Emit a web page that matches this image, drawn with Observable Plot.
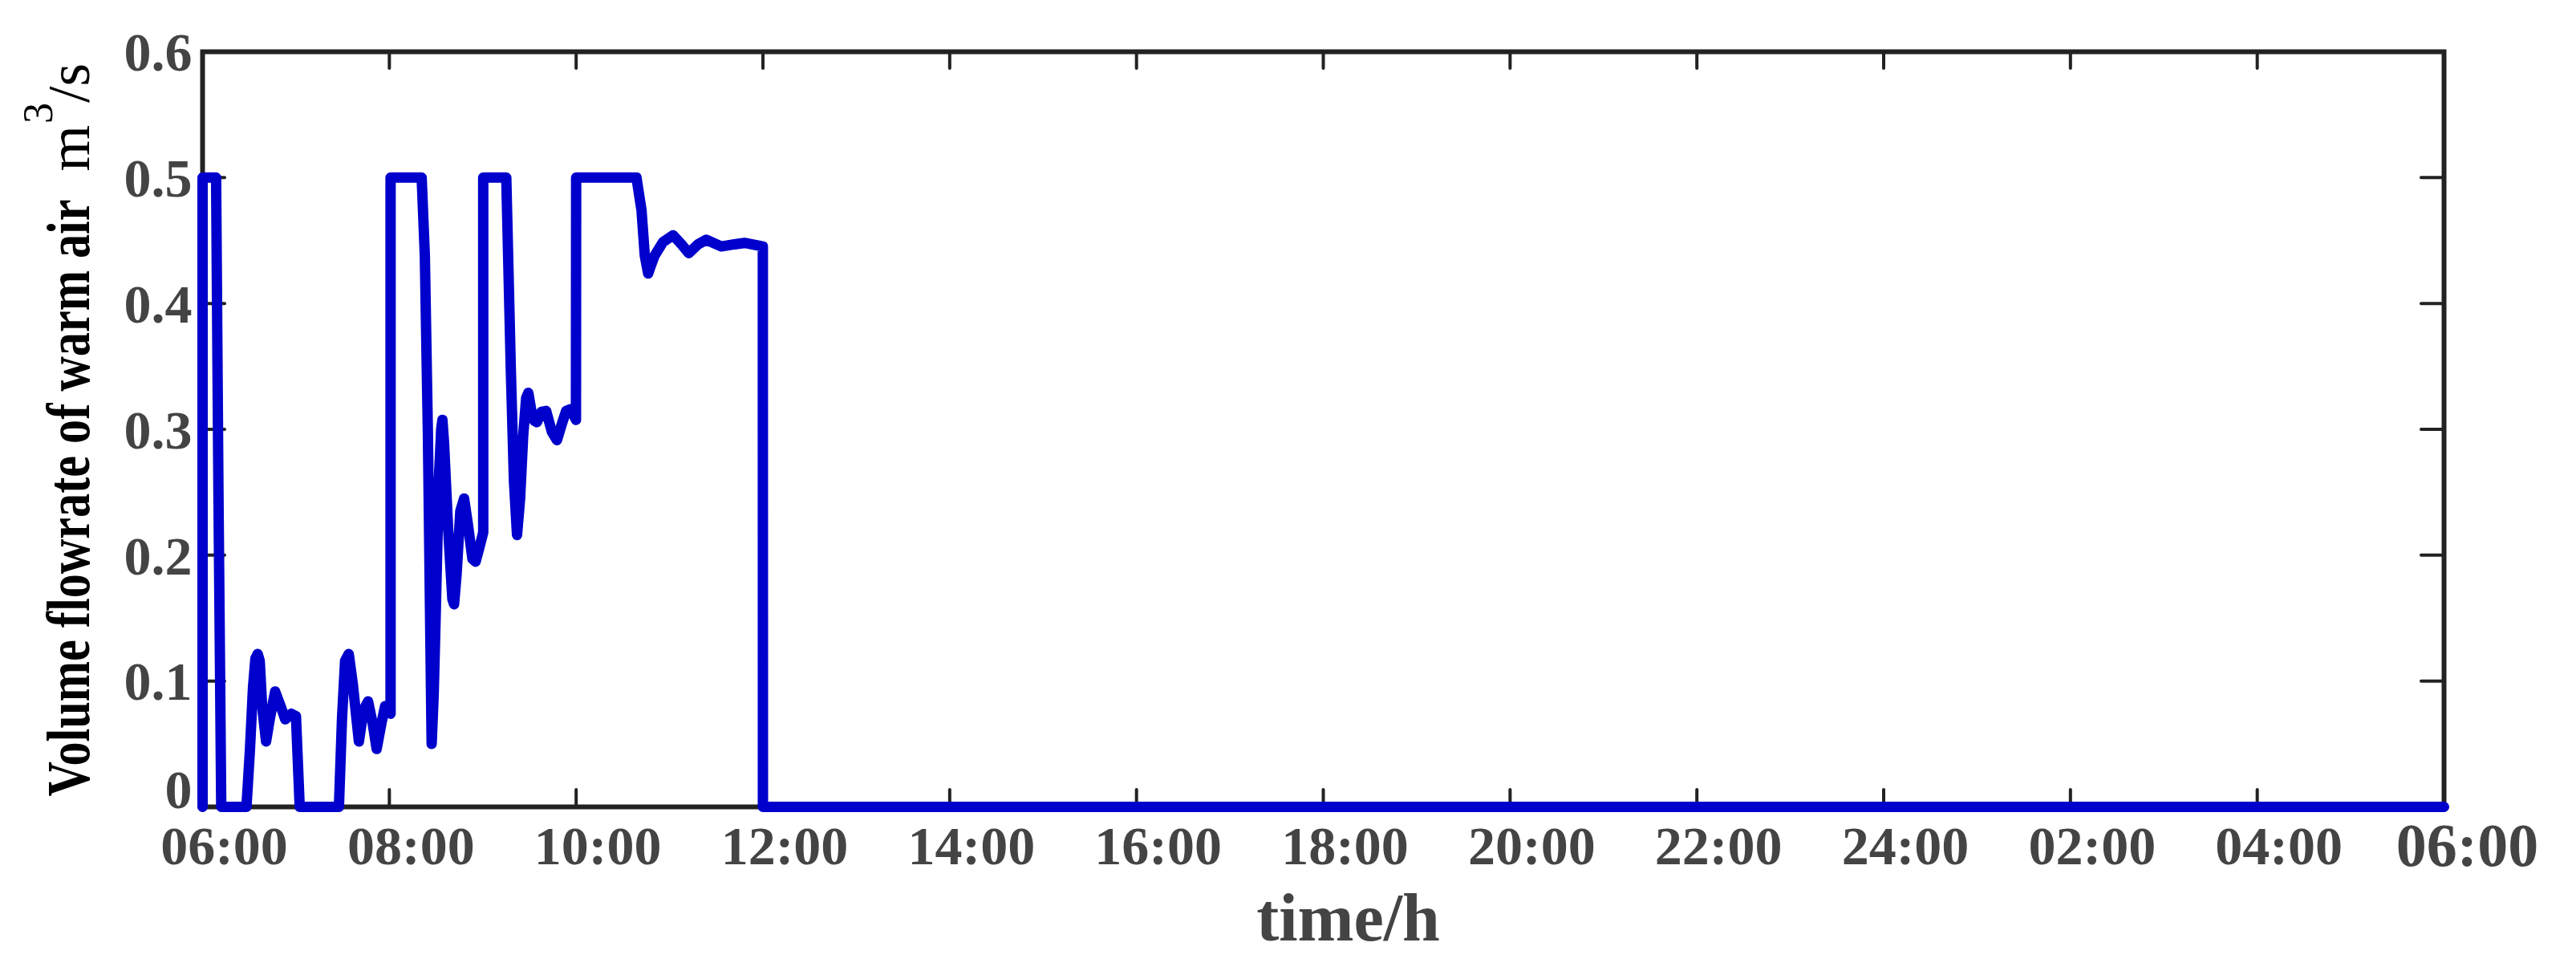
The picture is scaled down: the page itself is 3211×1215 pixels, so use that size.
<!DOCTYPE html>
<html>
<head>
<meta charset="utf-8">
<script src="https://cdn.jsdelivr.net/npm/d3@7"></script>
<script src="https://cdn.jsdelivr.net/npm/@observablehq/plot@0.6"></script>
<style>
  html, body { margin: 0; padding: 0; background: #fff; }
</style>
</head>
<body>
<div id="chart"></div>
<script>
// ---- Data (hours since 00:00 of day 1; 30 = 06:00 next day) ----
const hours = [
  6.0, 6.0, 6.145, 6.17, 6.20,
  6.47, 6.507, 6.54, 6.566, 6.59, 6.612, 6.638, 6.68, 6.72, 6.777, 6.836, 6.885, 6.95, 7.0, 7.04,
  7.46, 7.493, 7.526, 7.565, 7.608, 7.674, 7.723, 7.772, 7.822, 7.864, 7.914, 7.954, 8.013,
  8.013, 8.346, 8.38, 8.413, 8.436, 8.453, 8.475, 8.496, 8.53, 8.555, 8.568, 8.585, 8.63, 8.675, 8.693,
  8.72, 8.76, 8.80, 8.84, 8.89, 8.923, 8.96, 9.005,
  9.005, 9.252, 9.30, 9.334, 9.367, 9.40, 9.433, 9.465, 9.488, 9.52, 9.55, 9.58, 9.63, 9.679,
  9.74, 9.795, 9.85, 9.893, 9.942, 9.998,
  10.0, 10.646, 10.70, 10.735, 10.771, 10.80, 10.84, 10.93, 11.038, 11.127, 11.205, 11.305,
  11.393, 11.554, 11.696, 11.803, 11.999,
  12.0, 30.0
];
const flow = [
  0, 0.5, 0.5, 0.25, 0,
  0, 0.045, 0.095, 0.118, 0.1215, 0.116, 0.080, 0.052, 0.070, 0.0917, 0.080, 0.0696, 0.074, 0.072, 0,
  0, 0.070, 0.116, 0.1215, 0.098, 0.052, 0.077, 0.0838, 0.066, 0.046, 0.066, 0.080, 0.074,
  0.5, 0.5, 0.438, 0.295, 0.152, 0.05, 0.09, 0.152, 0.26, 0.30, 0.3075, 0.29, 0.22, 0.165, 0.161,
  0.185, 0.235, 0.245, 0.225, 0.197, 0.1948, 0.205, 0.218,
  0.5, 0.5, 0.349, 0.259, 0.216, 0.245, 0.295, 0.325, 0.329, 0.315, 0.307, 0.3057, 0.314, 0.3146,
  0.298, 0.2914, 0.305, 0.3146, 0.316, 0.3075,
  0.5, 0.5, 0.474, 0.438, 0.4238, 0.43, 0.438, 0.4488, 0.4542, 0.447, 0.44, 0.447,
  0.4506, 0.4453, 0.447, 0.4481, 0.4453,
  0, 0
];
const xTicks = [6, 8, 10, 12, 14, 16, 18, 20, 22, 24, 26, 28, 30];
const xTickLabels = ["06:00", "08:00", "10:00", "12:00", "14:00", "16:00", "18:00",
                     "20:00", "22:00", "24:00", "02:00", "04:00", "06:00"];
const yTicks = [0, 0.1, 0.2, 0.3, 0.4, 0.5, 0.6];
const yTickLabels = ["0", "0.1", "0.2", "0.3", "0.4", "0.5", "0.6"];
const xLabel = "time/h";
const yLabel = "Volume flowrate of warm air";
const yUnitMain = "m";
const yUnitSup = "3";
const yUnitTail = "/s";

// ---- Build ----
const data = hours.map((h, i) => ({h, v: flow[i]}));
const W = 3211, H = 1215, mL = 252, mR = 165, mT = 64, mB = 210;
const innerH = H - mT - mB;
const innerW = W - mL - mR;
const serif = "'Liberation Serif', 'Times New Roman', Times, serif";
const innerX = xTicks.slice(1, -1);
const innerY = yTicks.slice(1, -1);
const fmtX = d => xTickLabels[xTicks.indexOf(d)];
const fmtY = d => yTickLabels[yTicks.indexOf(d)];
const tickStyle = {stroke: "#222", strokeWidth: 4, strokeLinecap: "round"};
const xLab = {tickSize: 0, tickPadding: 23, tickFormat: fmtX, fontSize: 68, fontWeight: "bold", fill: "#444", label: null, fontFamily: serif};
const yLab = {tickSize: 0, tickPadding: 13, tickFormat: fmtY, fontSize: 68, fontWeight: "bold", fill: "#444", label: null, fontFamily: serif};

const chart = Plot.plot({
  width: W, height: H,
  marginLeft: mL, marginRight: mR, marginTop: mT, marginBottom: mB,
  x: {domain: [6, 30]},
  y: {domain: [0, 0.6]},
  style: {background: "#fff", fontFamily: serif},
  marks: [
    Plot.tickX(innerX, {x: d => d, insetTop: innerH - 21, ...tickStyle}),
    Plot.tickX(innerX, {x: d => d, insetBottom: innerH - 21, ...tickStyle}),
    Plot.tickY(innerY, {y: d => d, insetRight: innerW - 28, ...tickStyle}),
    Plot.tickY(innerY, {y: d => d, insetLeft: innerW - 28, ...tickStyle}),
    Plot.frame({stroke: "#222", strokeWidth: 6}),
    Plot.axisX(xTicks.slice(0, -1), {...xLab, dx: 27}),
    Plot.axisX(xTicks.slice(-1), {...xLab, fontSize: 76, tickPadding: 20, dx: 29}),
    Plot.axisY(yTicks.slice(1), {...yLab, dy: 2}),
    Plot.axisY(yTicks.slice(0, 1), {...yLab, dy: -20}),
    Plot.line(data, {x: "h", y: "v", stroke: "#0000CC", strokeWidth: 13,
                     strokeLinejoin: "round", strokeLinecap: "round"}),
    Plot.text([xLabel], {frameAnchor: "bottom", lineAnchor: "bottom", dx: 31, dy: 166,
                         fontSize: 84, fontWeight: "bold", fill: "#444", fontFamily: serif}),
    Plot.text([yLabel], {frameAnchor: "bottom-left", rotate: -90, textAnchor: "start",
                         lineAnchor: "bottom", dx: -142, dy: -13, fontSize: 76, fontWeight: "bold",
                         fill: "#000", fontFamily: serif}),
    Plot.text([yUnitMain], {frameAnchor: "top-left", rotate: -90, textAnchor: "start",
                         lineAnchor: "bottom", dx: -142, dy: 149, fontSize: 74, fill: "#000", fontFamily: serif})
  ]
});

document.getElementById("chart").appendChild(chart);

// Post-process label typography
const svg = d3.select(chart);
svg.selectAll("text").each(function () {
  const t = d3.select(this);
  const content = this.textContent;
  if (content === yLabel) {
    t.attr("textLength", 744).attr("lengthAdjust", "spacingAndGlyphs");
  } else if (content === yUnitMain && t.attr("transform") && t.attr("transform").includes("rotate")) {
    t.append("tspan").attr("dy", -46).attr("dx", 2).attr("font-size", 52).text(yUnitSup);
    t.append("tspan").attr("dy", 46).attr("dx", 0).text(yUnitTail);
  }
});
</script>
</body>
</html>
